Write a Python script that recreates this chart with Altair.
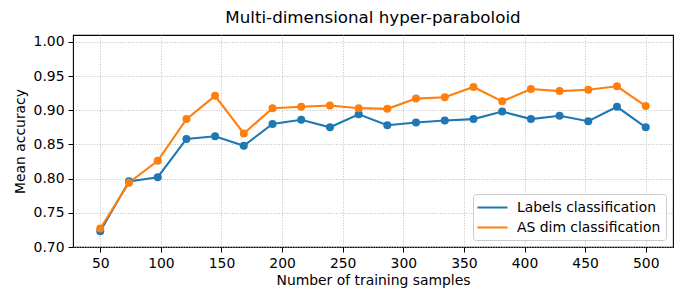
import altair as alt
import pandas as pd

samples = [50, 73.7, 97.4, 121.1, 144.7, 168.4, 192.1, 215.8, 239.5, 263.2,
           286.8, 310.5, 334.2, 357.9, 381.6, 405.3, 428.9, 452.6, 476.3, 500]
labels_acc = [0.723, 0.796, 0.802, 0.858, 0.862, 0.848, 0.880, 0.886, 0.875, 0.894,
              0.878, 0.882, 0.885, 0.887, 0.898, 0.887, 0.892, 0.884, 0.905, 0.875]
asdim_acc = [0.727, 0.794, 0.826, 0.887, 0.921, 0.866, 0.903, 0.905, 0.907, 0.903,
             0.902, 0.917, 0.919, 0.934, 0.913, 0.931, 0.928, 0.930, 0.935, 0.906]
series = ["Labels classification", "AS dim classification"]
colors = ["#1f77b4", "#ff7f0e"]
x_ticks = [50, 100, 150, 200, 250, 300, 350, 400, 450, 500]
y_ticks = [0.70, 0.75, 0.80, 0.85, 0.90, 0.95, 1.00]

rows = []
for s, vals in zip(series, [labels_acc, asdim_acc]):
    for x, v in zip(samples, vals):
        rows.append({"samples": x, "accuracy": v, "series": s})
df = pd.DataFrame(rows)

FONT = "DejaVu Sans"

chart = alt.Chart(df).mark_line(
    strokeWidth=2.1,
    point=alt.OverlayMarkDef(size=64, filled=True, opacity=1),
).encode(
    x=alt.X("samples:Q",
            scale=alt.Scale(domain=[27.5, 522.5], nice=False, zero=False),
            axis=alt.Axis(values=x_ticks, title="Number of training samples",
                          format="d")),
    y=alt.Y("accuracy:Q",
            scale=alt.Scale(domain=[0.70, 1.01], nice=False, zero=False),
            axis=alt.Axis(values=y_ticks, title="Mean accuracy", format=".2f")),
    color=alt.Color("series:N",
                    scale=alt.Scale(domain=series, range=colors),
                    sort=series,
                    legend=alt.Legend(
                        title=None, orient="bottom-right", offset=7,
                        symbolType="M-2,0H2", symbolSize=225,
                        symbolStrokeWidth=2, symbolOffset=6,
                        labelOffset=16, rowPadding=4, padding=5,
                        labelFontSize=13.9, labelFont=FONT, labelColor="black",
                        strokeColor="#cccccc", fillColor="rgba(255,255,255,0.8)",
                        cornerRadius=3)),
    order=alt.Order("samples:Q"),
).properties(
    width=600, height=212,
    title=alt.TitleParams("Multi-dimensional hyper-paraboloid", fontSize=16.7,
                          font=FONT, fontWeight="normal", color="black",
                          anchor="middle", offset=8),
    autosize=alt.AutoSizeParams(type="none"),
    padding={"left": 65, "top": 27, "right": 8, "bottom": 55},
).configure_view(
    stroke="black", strokeWidth=1.1,
).configure_axis(
    domain=False,
    grid=True, gridColor="#b0b0b0", gridDash=[1, 1.6], gridWidth=0.8,
    ticks=True, tickColor="black", tickSize=5, tickWidth=1,
    labelFont=FONT, labelFontSize=13.9, labelColor="black", labelPadding=4,
    titleFont=FONT, titleFontSize=13.9, titleColor="black", titleFontWeight="normal",
).configure_axisX(titlePadding=4).configure_axisY(titlePadding=6)

chart.save("out.html", embed_options={"renderer": "svg", "actions": False})
